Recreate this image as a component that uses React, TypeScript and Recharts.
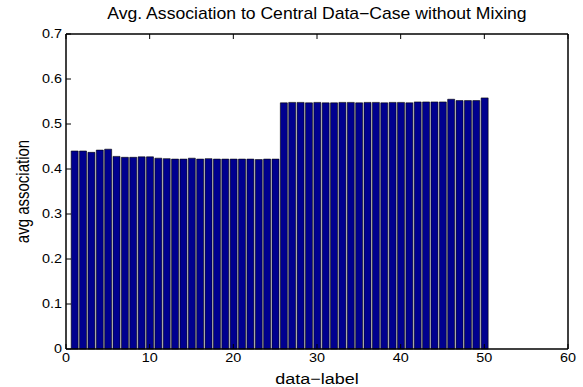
import React from 'react';
import { BarChart, Bar, XAxis, YAxis, Label } from 'recharts';

const dataLabels: number[] = Array.from({ length: 50 }, (_, i) => i + 1);
const avgAssociation: number[] = [
  0.440, 0.440, 0.437, 0.442, 0.444, 0.428, 0.426, 0.426, 0.427, 0.427,
  0.424, 0.423, 0.422, 0.422, 0.424, 0.422, 0.423, 0.422, 0.422, 0.422,
  0.422, 0.422, 0.421, 0.422, 0.422, 0.547, 0.548, 0.548, 0.547, 0.548,
  0.547, 0.547, 0.548, 0.548, 0.547, 0.548, 0.548, 0.547, 0.548, 0.548,
  0.547, 0.549, 0.549, 0.549, 0.549, 0.555, 0.552, 0.552, 0.552, 0.558,
];
const xTicks: number[] = [0, 10, 20, 30, 40, 50, 60];
const yTicks: number[] = [0, 0.1, 0.2, 0.3, 0.4, 0.5, 0.6, 0.7];
const titleText = 'Avg. Association to Central Data\u2212Case without Mixing';
const xLabelText = 'data\u2212label';
const yLabelText = 'avg association';

const data = dataLabels.map((x, i) => ({ x, v: avgAssociation[i] }));

const FONT = '"Liberation Sans", Arial, Helvetica, sans-serif';
const AXIS = { stroke: '#000', strokeWidth: 1.5 };
const SX = 1.2; // horizontal stretch of the reference's text

const fmtY = (v: number) => (v === 0 ? '0' : v.toFixed(1));

const BottomTick = (props: any) => {
  const { x, y, payload } = props;
  return (
    <g transform={`translate(${x},${y}) scale(${SX},1)`}>
      <text x={0} y={0} dy="0.72em" textAnchor="middle" fontSize={12} fontFamily={FONT} fill="#000">
        {payload.value}
      </text>
    </g>
  );
};

const LeftTick = (props: any) => {
  const { x, y, payload } = props;
  return (
    <g transform={`translate(${x},${y}) scale(${SX},1)`}>
      <text x={0} y={0} dy="0.36em" textAnchor="end" fontSize={12} fontFamily={FONT} fill="#000">
        {fmtY(payload.value)}
      </text>
    </g>
  );
};

export default function App() {
  return (
    <div style={{ position: 'absolute', left: 0, top: 0, width: 583, height: 387, background: '#fff' }}>
      <BarChart
        width={583}
        height={387}
        data={data}
        margin={{ top: 4, right: 0, bottom: 0, left: 0 }}
        style={{ fontFamily: FONT }}
      >
        <XAxis
          xAxisId="bottom"
          dataKey="x"
          type="number"
          domain={[0, 60]}
          ticks={xTicks}
          interval={0}
          height={38}
          axisLine={AXIS}
          tickLine={{ stroke: '#000', strokeWidth: 1 }}
          tickSize={-5}
          tickMargin={9}
          tick={<BottomTick />}
        >
          <Label
            content={(props: any) => {
              const vb = props.viewBox;
              const cx = vb.x + vb.width / 2;
              const cy = vb.y + 35;
              return (
                <g transform={`translate(${cx},${cy}) scale(${SX},1)`}>
                  <text x={0} y={0} textAnchor="middle" fontSize={15} fontFamily={FONT} fill="#000">
                    {xLabelText}
                  </text>
                </g>
              );
            }}
          />
        </XAxis>
        <XAxis
          xAxisId="top"
          orientation="top"
          dataKey="x"
          type="number"
          domain={[0, 60]}
          ticks={xTicks}
          interval={0}
          height={30}
          axisLine={AXIS}
          tickLine={{ stroke: '#000', strokeWidth: 1 }}
          tickSize={-5}
          tickFormatter={() => ''}
        >
          <Label
            content={(props: any) => {
              const vb = props.viewBox;
              const cx = vb.x + vb.width / 2;
              const cy = vb.y + 15;
              return (
                <g transform={`translate(${cx},${cy}) scale(1.1,1)`}>
                  <text x={0} y={0} textAnchor="middle" fontSize={16} fontFamily={FONT} fill="#000">
                    {titleText}
                  </text>
                </g>
              );
            }}
          />
        </XAxis>
        <YAxis
          yAxisId="left"
          type="number"
          domain={[0, 0.7]}
          ticks={yTicks}
          interval={0}
          width={66}
          axisLine={AXIS}
          tickLine={{ stroke: '#000', strokeWidth: 1 }}
          tickSize={-5}
          tickMargin={9}
          tick={<LeftTick />}
        >
          <Label
            content={(props: any) => {
              const vb = props.viewBox;
              const cx = vb.x + 29;
              const cy = vb.y + vb.height / 2;
              return (
                <g transform={`translate(${cx},${cy}) scale(${SX},1) rotate(-90)`}>
                  <text x={0} y={0} textAnchor="middle" fontSize={15} fontFamily={FONT} fill="#000">
                    {yLabelText}
                  </text>
                </g>
              );
            }}
          />
        </YAxis>
        <YAxis
          yAxisId="right"
          orientation="right"
          type="number"
          domain={[0, 0.7]}
          ticks={yTicks}
          interval={0}
          width={15}
          axisLine={AXIS}
          tickLine={{ stroke: '#000', strokeWidth: 1 }}
          tickSize={-5}
          tickFormatter={() => ''}
        />
        <Bar
          dataKey="v"
          xAxisId="bottom"
          yAxisId="left"
          barSize={7}
          fill="#00008F"
          stroke="#000"
          strokeWidth={0.6}
          isAnimationActive={false}
        />
      </BarChart>
    </div>
  );
}
